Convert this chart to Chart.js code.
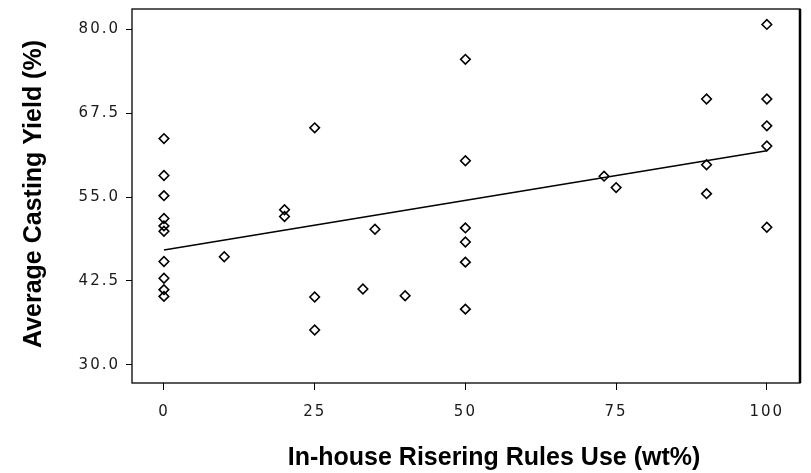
<!DOCTYPE html>
<html lang="en">

<head>
    <meta charset="UTF-8">
    <title>Casting Yield vs Risering Rules</title>
    <script src="https://cdn.jsdelivr.net/npm/chart.js"></script>
    <style>
        body { margin: 0; background: #fff; }
    </style>
</head>

<body>
    <canvas id="yieldChart" width="811" height="473"></canvas>
</body>

</html>

<script>
    // in-house risering rules use (wt%) for each foundry
    var wtUse = [0, 0, 0, 0, 0, 0, 0, 0, 0, 0,
        10, 20, 20, 25, 25, 25, 33, 35, 40,
        50, 50, 50, 50, 50, 50,
        73, 75, 90, 90, 90,
        100, 100, 100, 100, 100];
    // average casting yield (%) for the same foundries
    var castingYield = [63.7, 58.2, 55.2, 51.8, 50.7, 49.9, 45.4, 42.9, 41.2, 40.2,
        46.1, 53.1, 52.1, 65.3, 40.1, 35.2, 41.3, 50.2, 40.3,
        75.5, 60.4, 50.4, 48.3, 45.3, 38.3,
        58.1, 56.4, 69.6, 59.8, 55.5,
        80.7, 69.6, 65.6, 62.6, 50.5];

    // fitted line ends
    var fitX = [0, 100];
    var fitY = [47.1, 61.9];

    var xTicks = [0, 25, 50, 75, 100];
    var yTicks = [30, 42.5, 55, 67.5, 80];

    var xTitle = "In-house Risering Rules Use (wt%)";
    var yTitle = "Average Casting Yield (%)";

    function toPoints(xs, ys) {
        var pts = [];
        for (var i = 0; i < xs.length; i++) {
            pts.push({ x: xs[i], y: ys[i] });
        }
        return pts;
    }

    function fixedTicks(values) {
        return function (scale) {
            scale.ticks = values.map(function (v) { return { value: v }; });
        };
    }

    // fixed axis size, no extra room reserved for end labels
    function fixedSize(w, h) {
        return function (scale) {
            if (w) scale.width = w;
            if (h) scale.height = h;
            scale.paddingTop = 0;
            scale.paddingBottom = 0;
            scale.paddingLeft = 0;
            scale.paddingRight = 0;
        };
    }

    // spaced-out tick digits, plain titles and a closed frame
    var framePlugin = {
        id: "frame",
        beforeDraw: function (chart) {
            chart.ctx.letterSpacing = "2px";
        },
        afterDraw: function (chart) {
            var ctx = chart.ctx;
            var a = chart.chartArea;
            ctx.save();
            ctx.letterSpacing = "0px";
            ctx.strokeStyle = "#000";
            ctx.lineWidth = 1.3;
            ctx.strokeRect(a.left, a.top, a.right - a.left, a.bottom - a.top);
            ctx.lineWidth = 2.5;
            ctx.beginPath();
            ctx.moveTo(a.right, a.top);
            ctx.lineTo(a.right, a.bottom);
            ctx.stroke();

            ctx.fillStyle = "#000";
            ctx.font = "bold 25px 'Liberation Sans', Arial, sans-serif";
            ctx.textAlign = "center";
            ctx.textBaseline = "alphabetic";
            ctx.fillText(xTitle, 494, 465);

            ctx.translate(41, 194);
            ctx.rotate(-Math.PI / 2);
            ctx.fillText(yTitle, 0, 0);
            ctx.restore();
        }
    };

    var tickFont = { family: "'DejaVu Sans', sans-serif", size: 15 };

    new Chart(document.getElementById("yieldChart"), {
        type: "scatter",
        data: {
            datasets: [{
                label: "Foundries",
                data: toPoints(wtUse, castingYield),
                pointStyle: "rectRot",
                pointRadius: 4.8,
                borderWidth: 1.6,
                borderColor: "#000",
                backgroundColor: "rgba(255,255,255,0)"
            }, {
                label: "Fit",
                type: "line",
                data: toPoints(fitX, fitY),
                showLine: true,
                pointRadius: 0,
                borderColor: "#000",
                borderWidth: 1.5,
                fill: false
            }]
        },
        options: {
            responsive: false,
            animation: false,
            layout: { padding: { top: 9, right: 11, left: 0, bottom: 0 } },
            plugins: {
                legend: { display: false },
                tooltip: { enabled: false }
            },
            scales: {
                x: {
                    type: "linear",
                    min: -5.3,
                    max: 105.5,
                    afterBuildTicks: fixedTicks(xTicks),
                    afterFit: fixedSize(0, 90),
                    border: { display: false },
                    grid: { drawOnChartArea: false, drawTicks: true, tickLength: 7, color: "#000" },
                    ticks: { font: tickFont, color: "#1a1a1a", padding: 13, maxRotation: 0 }
                },
                y: {
                    min: 27.3,
                    max: 83.0,
                    afterBuildTicks: fixedTicks(yTicks),
                    afterFit: fixedSize(132, 0),
                    border: { display: false },
                    grid: { drawOnChartArea: false, drawTicks: true, tickLength: 6, color: "#000" },
                    ticks: {
                        font: tickFont,
                        color: "#1a1a1a",
                        padding: 6,
                        callback: function (v) { return Number(v).toFixed(1); }
                    }
                }
            }
        },
        plugins: [framePlugin]
    });
</script>
